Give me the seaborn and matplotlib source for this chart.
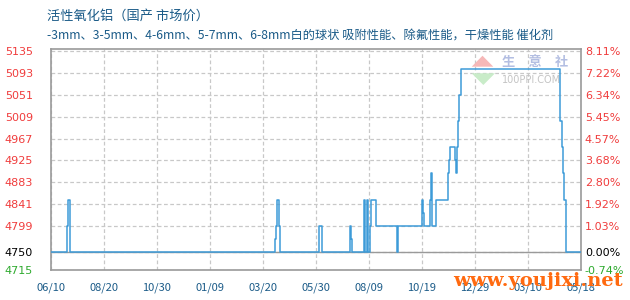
import pandas as pd
import matplotlib
matplotlib.use("Agg")
import matplotlib.pyplot as plt
import matplotlib.dates as mdates
from matplotlib.patches import Polygon
import seaborn as sns

# ---- chart text ----
title = "活性氧化铝（国产 市场价）"
subtitle = "-3mm、3-5mm、4-6mm、5-7mm、6-8mm白的球状 吸附性能、除氟性能，干燥性能 催化剂"

# ---- price series (step changes, yuan/ton) ----
start_date = "2019-06-10"
end_date = "2021-05-18"
base_price = 4750

change_dates = [
    "2019-06-10", "2019-07-02", "2019-07-03", "2019-07-06",
    "2020-04-05", "2020-04-06", "2020-04-07", "2020-04-10", "2020-04-11",
    "2020-06-02", "2020-06-03", "2020-06-06", "2020-06-07",
    "2020-07-14", "2020-07-15", "2020-07-17",
    "2020-08-02", "2020-08-03", "2020-08-05", "2020-08-07", "2020-08-09",
    "2020-08-11", "2020-08-17", "2020-08-18",
    "2020-09-14", "2020-09-15", "2020-09-16",
    "2020-10-18", "2020-10-19", "2020-10-21",
    "2020-10-29", "2020-10-30", "2020-10-31", "2020-11-06",
    "2020-11-22", "2020-11-23", "2020-11-24",
    "2020-12-01", "2020-12-02", "2020-12-04", "2020-12-05", "2020-12-06",
    "2020-12-09",
    "2021-04-20", "2021-04-21", "2021-04-23", "2021-04-24", "2021-04-26",
    "2021-04-28", "2021-05-18",
]
prices = [
    4750, 4800, 4850, 4750,
    4775, 4800, 4850, 4800, 4750,
    4775, 4800, 4775, 4750,
    4800, 4775, 4750,
    4850, 4750, 4850, 4750, 4800,
    4850, 4825, 4800,
    4775, 4750, 4800,
    4850, 4825, 4800,
    4850, 4900, 4800, 4850,
    4900, 4925, 4950,
    4925, 4900, 4950, 5000, 5050,
    5100,
    5050, 5000, 4950, 4900, 4850,
    4750, 4750,
]

y_ticks = [5135, 5093, 5051, 5009, 4967, 4925, 4883, 4841, 4799, 4750, 4715]
x_tick_labels = ["06/10", "08/20", "10/30", "01/09", "03/20", "05/30",
                 "08/09", "10/19", "12/29", "03/10", "05/18"]

# ---- styling ----
sns.set_theme(style="white")
plt.rcParams["font.family"] = ["Noto Sans CJK SC", "DejaVu Sans"]

LINE_BLUE = "#3d9bd8"
TEXT_BLUE = "#1b5b88"
UP_RED = "#f03c3c"
DOWN_GREEN = "#2eaa2e"
SPINE_GRAY = "#9a9a9a"
GRID_GRAY = "#c8c8c8"

df = pd.DataFrame({"date": pd.to_datetime(change_dates), "price": prices})
t0 = pd.Timestamp(start_date)
t1 = pd.Timestamp(end_date)

fig = plt.figure(figsize=(6.3, 3.0), dpi=100, facecolor="white")
ax = fig.add_axes([0.0805, 0.10, 0.8412, 0.7357])

# base price reference line
ax.axhline(base_price, color=SPINE_GRAY, lw=1.0, zorder=1.5)

sns.lineplot(data=df, x="date", y="price", ax=ax, color=LINE_BLUE,
             drawstyle="steps-post", lw=1.1, zorder=3, estimator=None)

ax.set_xlim(t0, t1)
ax.set_ylim(4715, 5138)

# x ticks at ten equal divisions of the date range
x_ticks = [mdates.date2num(t0 + (t1 - t0) * k / 10) for k in range(11)]
ax.set_xticks(x_ticks)
ax.set_xticklabels(x_tick_labels)
ax.set_yticks(y_ticks)
ax.set_yticklabels([str(v) for v in y_ticks])

ax.set_xlabel("")
ax.set_ylabel("")
ax.grid(True, color=GRID_GRAY, ls=(0, (3, 2)), lw=0.9)

for s in ax.spines.values():
    s.set_color(SPINE_GRAY)
    s.set_linewidth(1.2)

ax.tick_params(axis="x", length=0, pad=9, labelsize=8, labelcolor=TEXT_BLUE)
ax.tick_params(axis="y", length=0, pad=33, labelsize=8)
for lab, v in zip(ax.get_yticklabels(), y_ticks):
    lab.set_horizontalalignment("left")
    lab.set_color(UP_RED if v > base_price else ("black" if v == base_price else DOWN_GREEN))
    lab.set_fontfamily("DejaVu Sans")

# right axis: change relative to the base price
ax2 = ax.twinx()
ax2.set_ylim(ax.get_ylim())
ax2.set_yticks(y_ticks)
pct = [(v / base_price - 1) * 100 for v in y_ticks]
ax2.set_yticklabels([f"{p:.2f}%" for p in pct])
ax2.tick_params(axis="y", length=0, pad=3, labelsize=8)
for lab, v in zip(ax2.get_yticklabels(), y_ticks):
    lab.set_color(UP_RED if v > base_price else ("black" if v == base_price else DOWN_GREEN))
    lab.set_fontfamily("DejaVu Sans")
for s in ax2.spines.values():
    s.set_visible(False)
ax2.grid(False)

# titles
fig.text(0.0746, 0.947, title, fontsize=9.5, color=TEXT_BLUE, va="center", ha="left")
fig.text(0.0746, 0.880, subtitle, fontsize=8.8, color=TEXT_BLUE, va="center", ha="left")

# site logo inside the plot area, under the price line
ftr = fig.transFigure
ax.add_patch(Polygon([(0.7487, 0.7777), (0.7830, 0.7777), (0.7659, 0.8143)],
                     closed=True, transform=ftr, facecolor="#f6b8b8",
                     edgecolor="none", zorder=1))
ax.add_patch(Polygon([(0.7487, 0.7557), (0.7857, 0.7557), (0.7672, 0.7167)],
                     closed=True, transform=ftr, facecolor="#c9ecc9",
                     edgecolor="none", zorder=1))
ax.text(0.7963, 0.792, "生　意　社", transform=ftr, fontsize=9.5, color="#b3bee2",
        ha="left", va="center", zorder=1, fontweight="bold")
ax.text(0.7963, 0.734, "100PPI.COM", transform=ftr, fontsize=7, color="#c4c4c4",
        ha="left", va="center", zorder=1, fontfamily="DejaVu Sans")

# site address
fig.text(0.988, 0.064, "www.youjixi.net", fontsize=14, color="#ff6a10",
         fontweight="bold", fontfamily="DejaVu Serif", ha="right", va="center")

fig.savefig("out.png", dpi=100, facecolor="white")
